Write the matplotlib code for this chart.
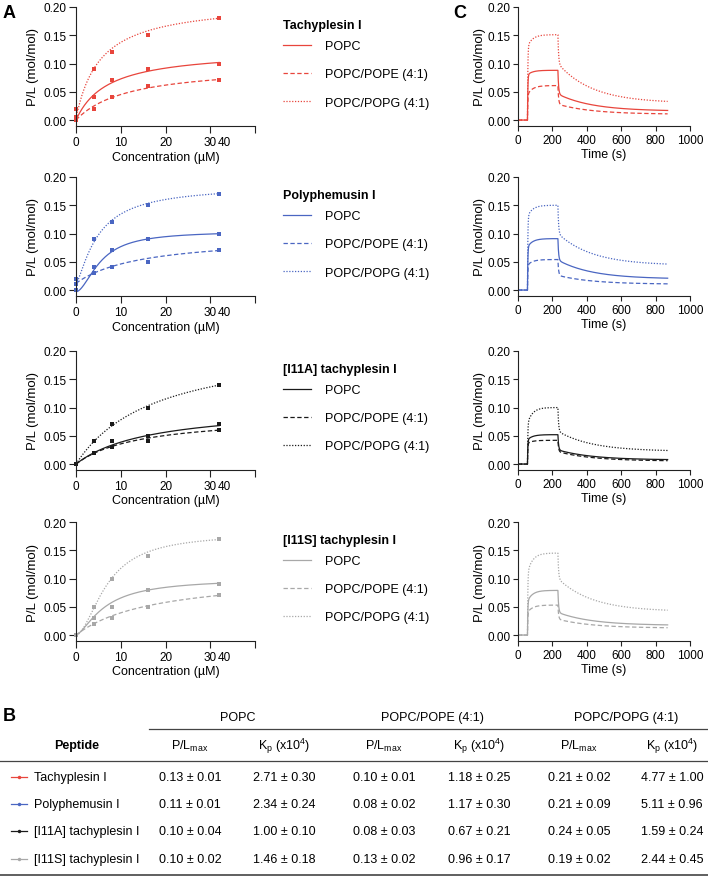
import numpy as np
import matplotlib
matplotlib.use('Agg')
import matplotlib.pyplot as plt
from matplotlib.lines import Line2D

plt.rcParams['font.family'] = ['Liberation Sans', 'DejaVu Sans']
plt.rcParams['mathtext.default'] = 'regular'

# ---- data ----
peptides = ['Tachyplesin I', 'Polyphemusin I', '[I11A] tachyplesin I', '[I11S] tachyplesin I']
lipids = ['POPC', 'POPC/POPE (4:1)', 'POPC/POPG (4:1)']
colors = ['#e8453c', '#4a66c2', '#1a1a1a', '#a8a8a8']

# panel A: P/L vs peptide concentration (POPC, POPE mix, POPG mix)
conc = [0, 4, 8, 16, 32]
tachy_pl = [[0.00, 0.04, 0.07, 0.09, 0.10],
            [0.005, 0.02, 0.04, 0.06, 0.07],
            [0.02, 0.09, 0.12, 0.15, 0.18]]
poly_pl = [[0.00, 0.04, 0.07, 0.09, 0.10],
           [0.01, 0.03, 0.04, 0.05, 0.07],
           [0.02, 0.09, 0.12, 0.15, 0.17]]
i11a_pl = [[0.00, 0.02, 0.04, 0.05, 0.07],
           [0.00, 0.02, 0.03, 0.04, 0.06],
           [0.00, 0.04, 0.07, 0.10, 0.14]]
i11s_pl = [[0.00, 0.03, 0.05, 0.08, 0.09],
           [0.00, 0.02, 0.03, 0.05, 0.07],
           [0.00, 0.05, 0.10, 0.14, 0.17]]

# fitted binding curves: (offset, P/Lmax, K, hill n)
tachy_fit = [(0.0, 0.1245, 7.1, 1.0), (0.0, 0.098, 11.7, 1.0), (0.003, 0.207, 5.4, 1.0)]
poly_fit = [(-0.003, 0.107, 5.5, 1.8), (0.012, 0.085, 14.9, 1.0), (0.01, 0.175, 5.0, 1.3)]
i11a_fit = [(0.0, 0.1035, 16.7, 1.0), (0.0, 0.0868, 14.3, 1.0), (0.0, 0.217, 17.7, 1.0)]
i11s_fit = [(0.0, 0.100, 6.5, 1.5), (0.0, 0.109, 17.7, 1.0), (0.0, 0.180, 7.0, 1.8)]

# panel C: kinetics, (level after injection, level at end of injection,
#                     level after fast dissociation, level at end)
t_on, t_off, t_end = 55, 232, 870
tachy_kin = [(0.080, 0.088, 0.046, 0.017), (0.045, 0.061, 0.028, 0.011), (0.130, 0.151, 0.100, 0.033)]
poly_kin = [(0.076, 0.091, 0.053, 0.021), (0.044, 0.054, 0.026, 0.011), (0.130, 0.150, 0.100, 0.046)]
i11a_kin = [(0.043, 0.052, 0.025, 0.008), (0.037, 0.042, 0.022, 0.006), (0.072, 0.100, 0.058, 0.024)]
i11s_kin = [(0.060, 0.079, 0.040, 0.018), (0.040, 0.053, 0.028, 0.013), (0.110, 0.145, 0.100, 0.044)]

# panel B table
table_groups = ['POPC', 'POPC/POPE (4:1)', 'POPC/POPG (4:1)']
table_rows = [
    ['0.13 ± 0.01', '2.71 ± 0.30', '0.10 ± 0.01', '1.18 ± 0.25', '0.21 ± 0.02', '4.77 ± 1.00'],
    ['0.11 ± 0.01', '2.34 ± 0.24', '0.08 ± 0.02', '1.17 ± 0.30', '0.21 ± 0.09', '5.11 ± 0.96'],
    ['0.10 ± 0.04', '1.00 ± 0.10', '0.08 ± 0.03', '0.67 ± 0.21', '0.24 ± 0.05', '1.59 ± 0.24'],
    ['0.10 ± 0.02', '1.46 ± 0.18', '0.13 ± 0.02', '0.96 ± 0.17', '0.19 ± 0.02', '2.44 ± 0.45'],
]

all_pl = [tachy_pl, poly_pl, i11a_pl, i11s_pl]
all_fit = [tachy_fit, poly_fit, i11a_fit, i11s_fit]
all_kin = [tachy_kin, poly_kin, i11a_kin, i11s_kin]
styles = ['-', (0, (3.5, 2)), (0, (1, 1.3))]

W, H = 708, 878
fig = plt.figure(figsize=(W / 100, H / 100), dpi=100)


def px_axes(left, top, right, bottom, **kw):
    return fig.add_axes([left / W, 1 - bottom / H, (right - left) / W, (bottom - top) / H], **kw)


def kinetics(t, jump, peak, drop, end):
    y = np.zeros_like(t)
    a = (t >= t_on) & (t <= t_off)
    dt = t[a] - t_on
    span = t_off - t_on
    y[a] = jump * (1 - np.exp(-dt / 2.0)) + (peak - jump) * (1 - np.exp(-dt / 30.0)) / (1 - np.exp(-span / 30.0))
    d = t > t_off
    dt = t[d] - t_off
    T = t_end - t_off
    slow = end + (drop - end) * (np.exp(-dt / 200.0) - np.exp(-T / 200.0)) / (1 - np.exp(-T / 200.0))
    y[d] = (peak - drop) * np.exp(-dt / 4.0) + slow
    return y


def style_axis(ax, tl):
    for s in ['top', 'right']:
        ax.spines[s].set_visible(False)
    for s in ['left', 'bottom']:
        ax.spines[s].set_linewidth(0.8)
        ax.spines[s].set_color('#222222')
    ax.tick_params(direction='out', length=tl, width=0.8, labelsize=8.5, pad=2, color='#222222')


row_tops = [8, 178, 352, 523]
ylo = -0.0105
t = np.concatenate([np.linspace(0, t_on - 0.01, 20), np.linspace(t_on, t_off, 600),
                    np.linspace(t_off + 0.01, t_end, 1200)])

for i, top in enumerate(row_tops):
    bottom = top + 119
    c = colors[i]

    # panel A
    ax = px_axes(76, top, 255, bottom)
    xx = np.linspace(0, 32, 300)
    for j in range(3):
        y0, bmax, k, n = all_fit[i][j]
        ax.plot(xx, y0 + bmax * xx ** n / (k ** n + xx ** n), color=c, ls=styles[j], lw=0.9)
        ax.plot(conc, all_pl[i][j], 's', ms=2.4, color=c, clip_on=False, mew=0)
    ax.set_xlim(0, 40)
    ax.set_ylim(ylo, 0.2)
    style_axis(ax, 5)
    ax.set_xticks([0, 10, 20, 30, 40])
    ax.set_xticklabels(['0', '10', '20', '30', ''])
    ax.set_yticks([0, 0.05, 0.1, 0.15, 0.2])
    ax.set_yticklabels(['0.00', '0.05', '0.10', '0.15', '0.20'])
    trans, va, ha = ax.get_xaxis_text1_transform(7)
    ax.text(33.2, 0, '40', transform=trans, va=va, ha='center', fontsize=8.5)
    ax.set_xlabel('Concentration (µM)', fontsize=9, labelpad=2)
    ax.set_ylabel('P/L (mol/mol)', fontsize=9.5, labelpad=3)

    # legend: bold peptide name above three lipid entries
    fig.text(283 / W, 1 - (top + 18) / H, peptides[i], fontsize=9, fontweight='bold',
             ha='left', va='center')
    handles = [Line2D([], [], color=c, ls=styles[j], lw=0.9) for j in range(3)]
    fig.legend(handles, lipids, loc='upper left',
               bbox_to_anchor=(283 / W, 1 - (top + 33) / H), frameon=False, fontsize=9,
               handlelength=2.2, handletextpad=1.15, labelspacing=1.3,
               borderpad=0, borderaxespad=0)

    # panel C
    axc = px_axes(518, top, 690, bottom)
    for j in range(3):
        axc.plot(t, kinetics(t, *all_kin[i][j]), color=c, ls=styles[j], lw=0.9)
    axc.set_xlim(0, 1000)
    axc.set_ylim(ylo, 0.2)
    style_axis(axc, 3.5)
    axc.set_xticks([0, 200, 400, 600, 800, 1000])
    axc.set_yticks([0, 0.05, 0.1, 0.15, 0.2])
    axc.set_yticklabels(['0.00', '0.05', '0.10', '0.15', '0.20'])
    axc.set_xlabel('Time (s)', fontsize=9, labelpad=2)
    axc.set_ylabel('P/L (mol/mol)', fontsize=9.5, labelpad=1)

# panel B table and panel letters on an overlay in pixel coordinates
tab = fig.add_axes([0, 0, 1, 1], zorder=-1)
tab.set_xlim(0, W)
tab.set_ylim(H, 0)
tab.axis('off')

tab.text(3, 13, 'A', fontsize=13, fontweight='bold', va='center')
tab.text(453, 13, 'C', fontsize=13, fontweight='bold', va='center')
tab.text(3, 717, 'B', fontsize=13, fontweight='bold', va='center')

group_x = [238, 432, 626]
col_x = [190, 284, 384, 479, 579, 672]
row_y = [778, 805, 832, 860]
for gx, g in zip(group_x, table_groups):
    tab.text(gx, 718, g, fontsize=9, ha='center', va='center')
tab.plot([149, W], [730, 730], color='#444444', lw=0.9)
tab.text(77, 746, 'Peptide', fontsize=9, fontweight='bold', ha='center', va='center')
sub_heads = ['P/L$_{max}$', 'K$_{p}$ (x10$^{4}$)'] * 3
for cx, s in zip(col_x, sub_heads):
    tab.text(cx, 746, s, fontsize=9, ha='center', va='center')
tab.plot([0, W], [762, 762], color='#444444', lw=0.9)
for r, (ry, name) in enumerate(zip(row_y, peptides)):
    tab.plot([11, 27], [ry, ry], color=colors[r], lw=0.9)
    tab.plot([19], [ry], 'o', ms=2.5, color=colors[r], mew=0)
    tab.text(34, ry, name, fontsize=9, ha='left', va='center')
    for cx, v in zip(col_x, table_rows[r]):
        tab.text(cx, ry, v, fontsize=9, ha='center', va='center')
tab.plot([0, W], [876, 876], color='#444444', lw=1.2)

fig.savefig('out.png', dpi=100)
